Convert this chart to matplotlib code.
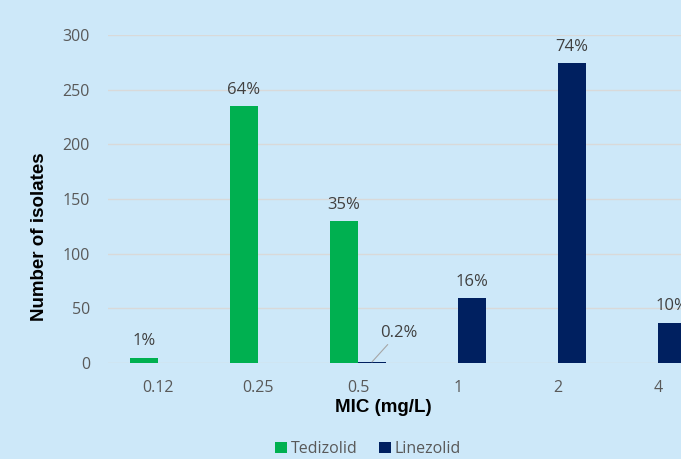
import matplotlib
matplotlib.use("Agg")
import matplotlib.pyplot as plt
import numpy as np

plt.rcParams['font.family'] = ['Open Sans', 'DejaVu Sans']

mic_labels = ["0.12", "0.25", "0.5", "1", "2", "4"]
tedizolid = [5, 235, 130, 0, 0, 0]
linezolid = [0, 0, 1, 59, 274, 37]
tedizolid_pct = ["1%", "64%", "35%", None, None, None]
linezolid_pct = [None, None, "0.2%", "16%", "74%", "10%"]

bg = "#CDE8F9"
green = "#00B050"
navy = "#002060"
grid_c = "#D9D9D9"
text_c = "#595959"
label_c = "#404040"

fig = plt.figure(figsize=(6.81, 4.59), dpi=100)
fig.patch.set_facecolor(bg)
ax = fig.add_axes([108 / 681, 96 / 459, 600 / 681, 328 / 459])
ax.set_facecolor(bg)

x = np.arange(len(mic_labels))
w = 0.28
b1 = ax.bar(x - w / 2, tedizolid, w, color=green, label="Tedizolid", zorder=3)
b2 = ax.bar(x + w / 2, linezolid, w, color=navy, label="Linezolid", zorder=3)

ax.set_xlim(-0.5, len(mic_labels) - 0.5)
ax.set_ylim(0, 300)
ax.set_yticks(range(0, 301, 50))
ax.set_xticks(x)
ax.set_xticklabels(mic_labels)
ax.tick_params(axis='both', length=0, colors=text_c, labelsize=11.5)
ax.tick_params(axis='x', pad=12)
ax.tick_params(axis='y', pad=13)
ax.grid(axis='y', color=grid_c, linewidth=1, zorder=0)
for s in ax.spines.values():
    s.set_visible(False)

bold_font = ['Liberation Sans', 'DejaVu Sans']
ax.set_ylabel("Number of isolates", fontsize=13.5, fontweight='bold', family=bold_font)
ax.yaxis.set_label_coords(-60 / 600, (363 - 237) / 328)
ax.set_xlabel("MIC (mg/L)", fontsize=13.5, fontweight='bold', family=bold_font)
ax.xaxis.set_label_coords(275 / 600, -(407 - 363) / 328)
ax.xaxis.label.set_va('center')

# percentage labels above bars
for xi, v, lab in zip(x - w / 2, tedizolid, tedizolid_pct):
    if lab:
        ax.annotate(lab, (xi, v), xytext=(0, 6), textcoords='offset points',
                    ha='center', va='bottom', fontsize=12, color=label_c)
for xi, v, lab in zip(x + w / 2, linezolid, linezolid_pct):
    if lab is None:
        continue
    if v < 5:
        ax.annotate(lab, (xi, v), xytext=(19, 21), textcoords='offset points',
                    ha='center', va='center', fontsize=12, color=label_c,
                    arrowprops=dict(arrowstyle='-', color='#A6A6A6', lw=0.8,
                                    shrinkA=1, shrinkB=0))
    else:
        ax.annotate(lab, (xi, v), xytext=(0, 6), textcoords='offset points',
                    ha='center', va='bottom', fontsize=12, color=label_c)

leg = fig.legend(handles=[b1, b2], loc='center', bbox_to_anchor=(368 / 681, 1 - 449 / 459),
                 ncol=2, frameon=False, fontsize=11.5, handlelength=0.75, handleheight=0.75,
                 handletextpad=0.25, columnspacing=1.3)
for t in leg.get_texts():
    t.set_color(text_c)

fig.savefig("out.png", dpi=100, facecolor=bg)
